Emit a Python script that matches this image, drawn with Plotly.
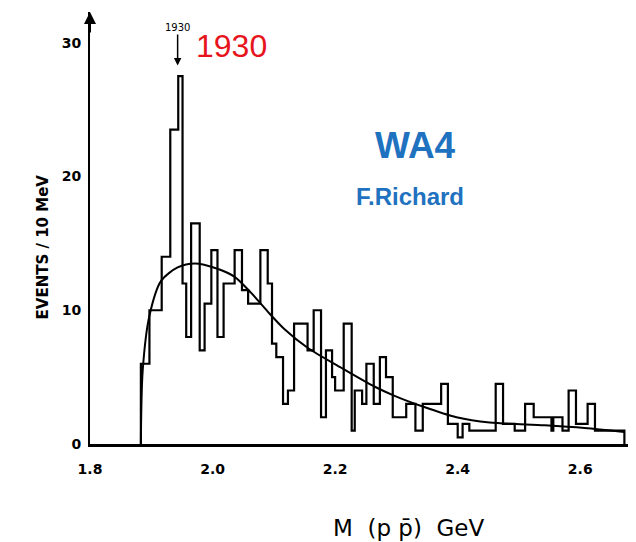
import plotly.graph_objects as go

# ---- data ----
mass_edges = [1.883, 1.897, 1.917, 1.931, 1.944, 1.951, 1.957, 1.965, 1.979, 1.987,
              1.998, 2.008, 2.018, 2.036, 2.048, 2.058, 2.078, 2.090, 2.097, 2.104,
              2.115, 2.123, 2.133, 2.155, 2.165, 2.177, 2.185, 2.195, 2.200, 2.214,
              2.227, 2.232, 2.244, 2.251, 2.263, 2.273, 2.283, 2.294, 2.316, 2.331,
              2.343, 2.373, 2.384, 2.400, 2.408, 2.419, 2.444, 2.462, 2.474, 2.493,
              2.510, 2.524, 2.553, 2.556, 2.571, 2.581, 2.593, 2.612, 2.624, 2.672]
events = [6, 10, 14, 23.5, 27.5, 12, 8, 16.5, 7, 10.5,
          14.5, 8, 12, 14.5, 11.5, 10.5, 14.5, 12, 7.5, 6.5,
          3, 4, 9, 7, 10, 2, 7, 5, 4, 9,
          1, 4, 3, 6, 3, 6.5, 5, 2, 3, 1,
          3, 4.5, 1.5, 0.5, 1.5, 1, 1, 4.5, 1.5, 1,
          3, 2, 1, 2, 1, 4, 1.5, 3, 1]

fit_mass = [1.883, 1.886, 1.897, 1.916, 1.943, 1.971, 2.008, 2.036, 2.063, 2.090,
            2.117, 2.155, 2.210, 2.264, 2.297, 2.343, 2.398, 2.452, 2.542, 2.607, 2.672]
fit_events = [0, 5.5, 9.6, 12.2, 13.2, 13.5, 13.1, 12.5, 11.3, 9.9,
              8.6, 7.2, 5.7, 4.3, 3.6, 2.8, 2.0, 1.6, 1.4, 1.2, 0.9]

x_ticks = [1.8, 2.0, 2.2, 2.4, 2.6]
x_tick_labels = ["1.8", "2.0", "2.2", "2.4", "2.6"]
y_ticks = [0, 10, 20, 30]
y_tick_labels = ["0", "10", "20", "30"]

peak_mass = 1.943
peak_label = "1930"

# ---- step outline of the histogram ----
step_x = [mass_edges[0]] + mass_edges + [mass_edges[-1]]
step_y = [0] + events + [events[-1], 0]
step_y = step_y[:len(step_x)]
step_y[-1] = 0

fig = go.Figure()
fig.add_trace(go.Scatter(x=step_x, y=step_y, mode="lines",
                         line=dict(color="black", width=2.2, shape="hv"),
                         hoverinfo="skip", showlegend=False))
fig.add_trace(go.Scatter(x=fit_mass, y=fit_events, mode="lines",
                         line=dict(color="black", width=2, shape="spline", smoothing=0.8),
                         hoverinfo="skip", showlegend=False))

tick_font = dict(family="DejaVu Sans", size=14, color="black", weight="bold")

fig.update_layout(
    width=636, height=542,
    margin=dict(l=82, r=0, t=4, b=106),
    paper_bgcolor="white", plot_bgcolor="white",
    xaxis=dict(range=[1.8, 2.704], tickvals=x_ticks, ticktext=x_tick_labels,
               showgrid=False, zeroline=False, showline=True, linecolor="black",
               linewidth=2.5, ticks="", tickfont=tick_font, ticklabelstandoff=10),
    yaxis=dict(range=[0, 32.3], tickvals=y_ticks, ticktext=y_tick_labels,
               showgrid=False, zeroline=False, showline=True, linecolor="black",
               linewidth=2, ticks="", tickfont=tick_font, ticklabelstandoff=4),
    font=dict(family="DejaVu Sans", color="black"),
)

# arrow head on top of the y axis
fig.add_annotation(x=0, y=1, xref="paper", yref="paper", ax=0, ay=22, text="",
                   showarrow=True, arrowhead=2, arrowsize=1.2, arrowwidth=2,
                   arrowcolor="black")

# arrow marking the 1930 peak
fig.add_annotation(x=peak_mass, y=28.3, xref="x", yref="y", text=peak_label,
                   font=dict(family="DejaVu Sans", size=10, color="black"),
                   showarrow=True, arrowhead=2, arrowsize=1, arrowwidth=1.5,
                   arrowcolor="black", ax=0, ay=-38)

fig.add_annotation(x=0.2563, y=0.922, xref="paper", yref="paper", text=peak_label,
                   showarrow=False, xanchor="center", yanchor="middle",
                   font=dict(family="Liberation Sans", size=32, color="#e8141b"))
fig.add_annotation(x=0.5884, y=0.690, xref="paper", yref="paper", text="WA4",
                   showarrow=False, xanchor="center", yanchor="middle",
                   font=dict(family="Liberation Sans", size=37, color="#1f72c0",
                             weight="bold"))
fig.add_annotation(x=0.5776, y=0.572, xref="paper", yref="paper", text="F.Richard",
                   showarrow=False, xanchor="center", yanchor="middle",
                   font=dict(family="Liberation Sans", size=24, color="#1f72c0",
                             weight="bold"))

# axis titles
fig.add_annotation(x=0.575, y=-0.194, xref="paper", yref="paper",
                   text="M\u00a0\u00a0(p\u00a0p\u0304)\u00a0\u00a0GeV", showarrow=False,
                   xanchor="center", yanchor="middle",
                   font=dict(family="DejaVu Sans", size=23, color="black"))
fig.add_annotation(x=-0.0848, y=0.455, xref="paper", yref="paper",
                   text="EVENTS / 10 MeV", showarrow=False, textangle=-90,
                   xanchor="center", yanchor="middle",
                   font=dict(family="DejaVu Sans", size=15, color="black",
                             weight="bold"))

fig.write_html("out.html")
